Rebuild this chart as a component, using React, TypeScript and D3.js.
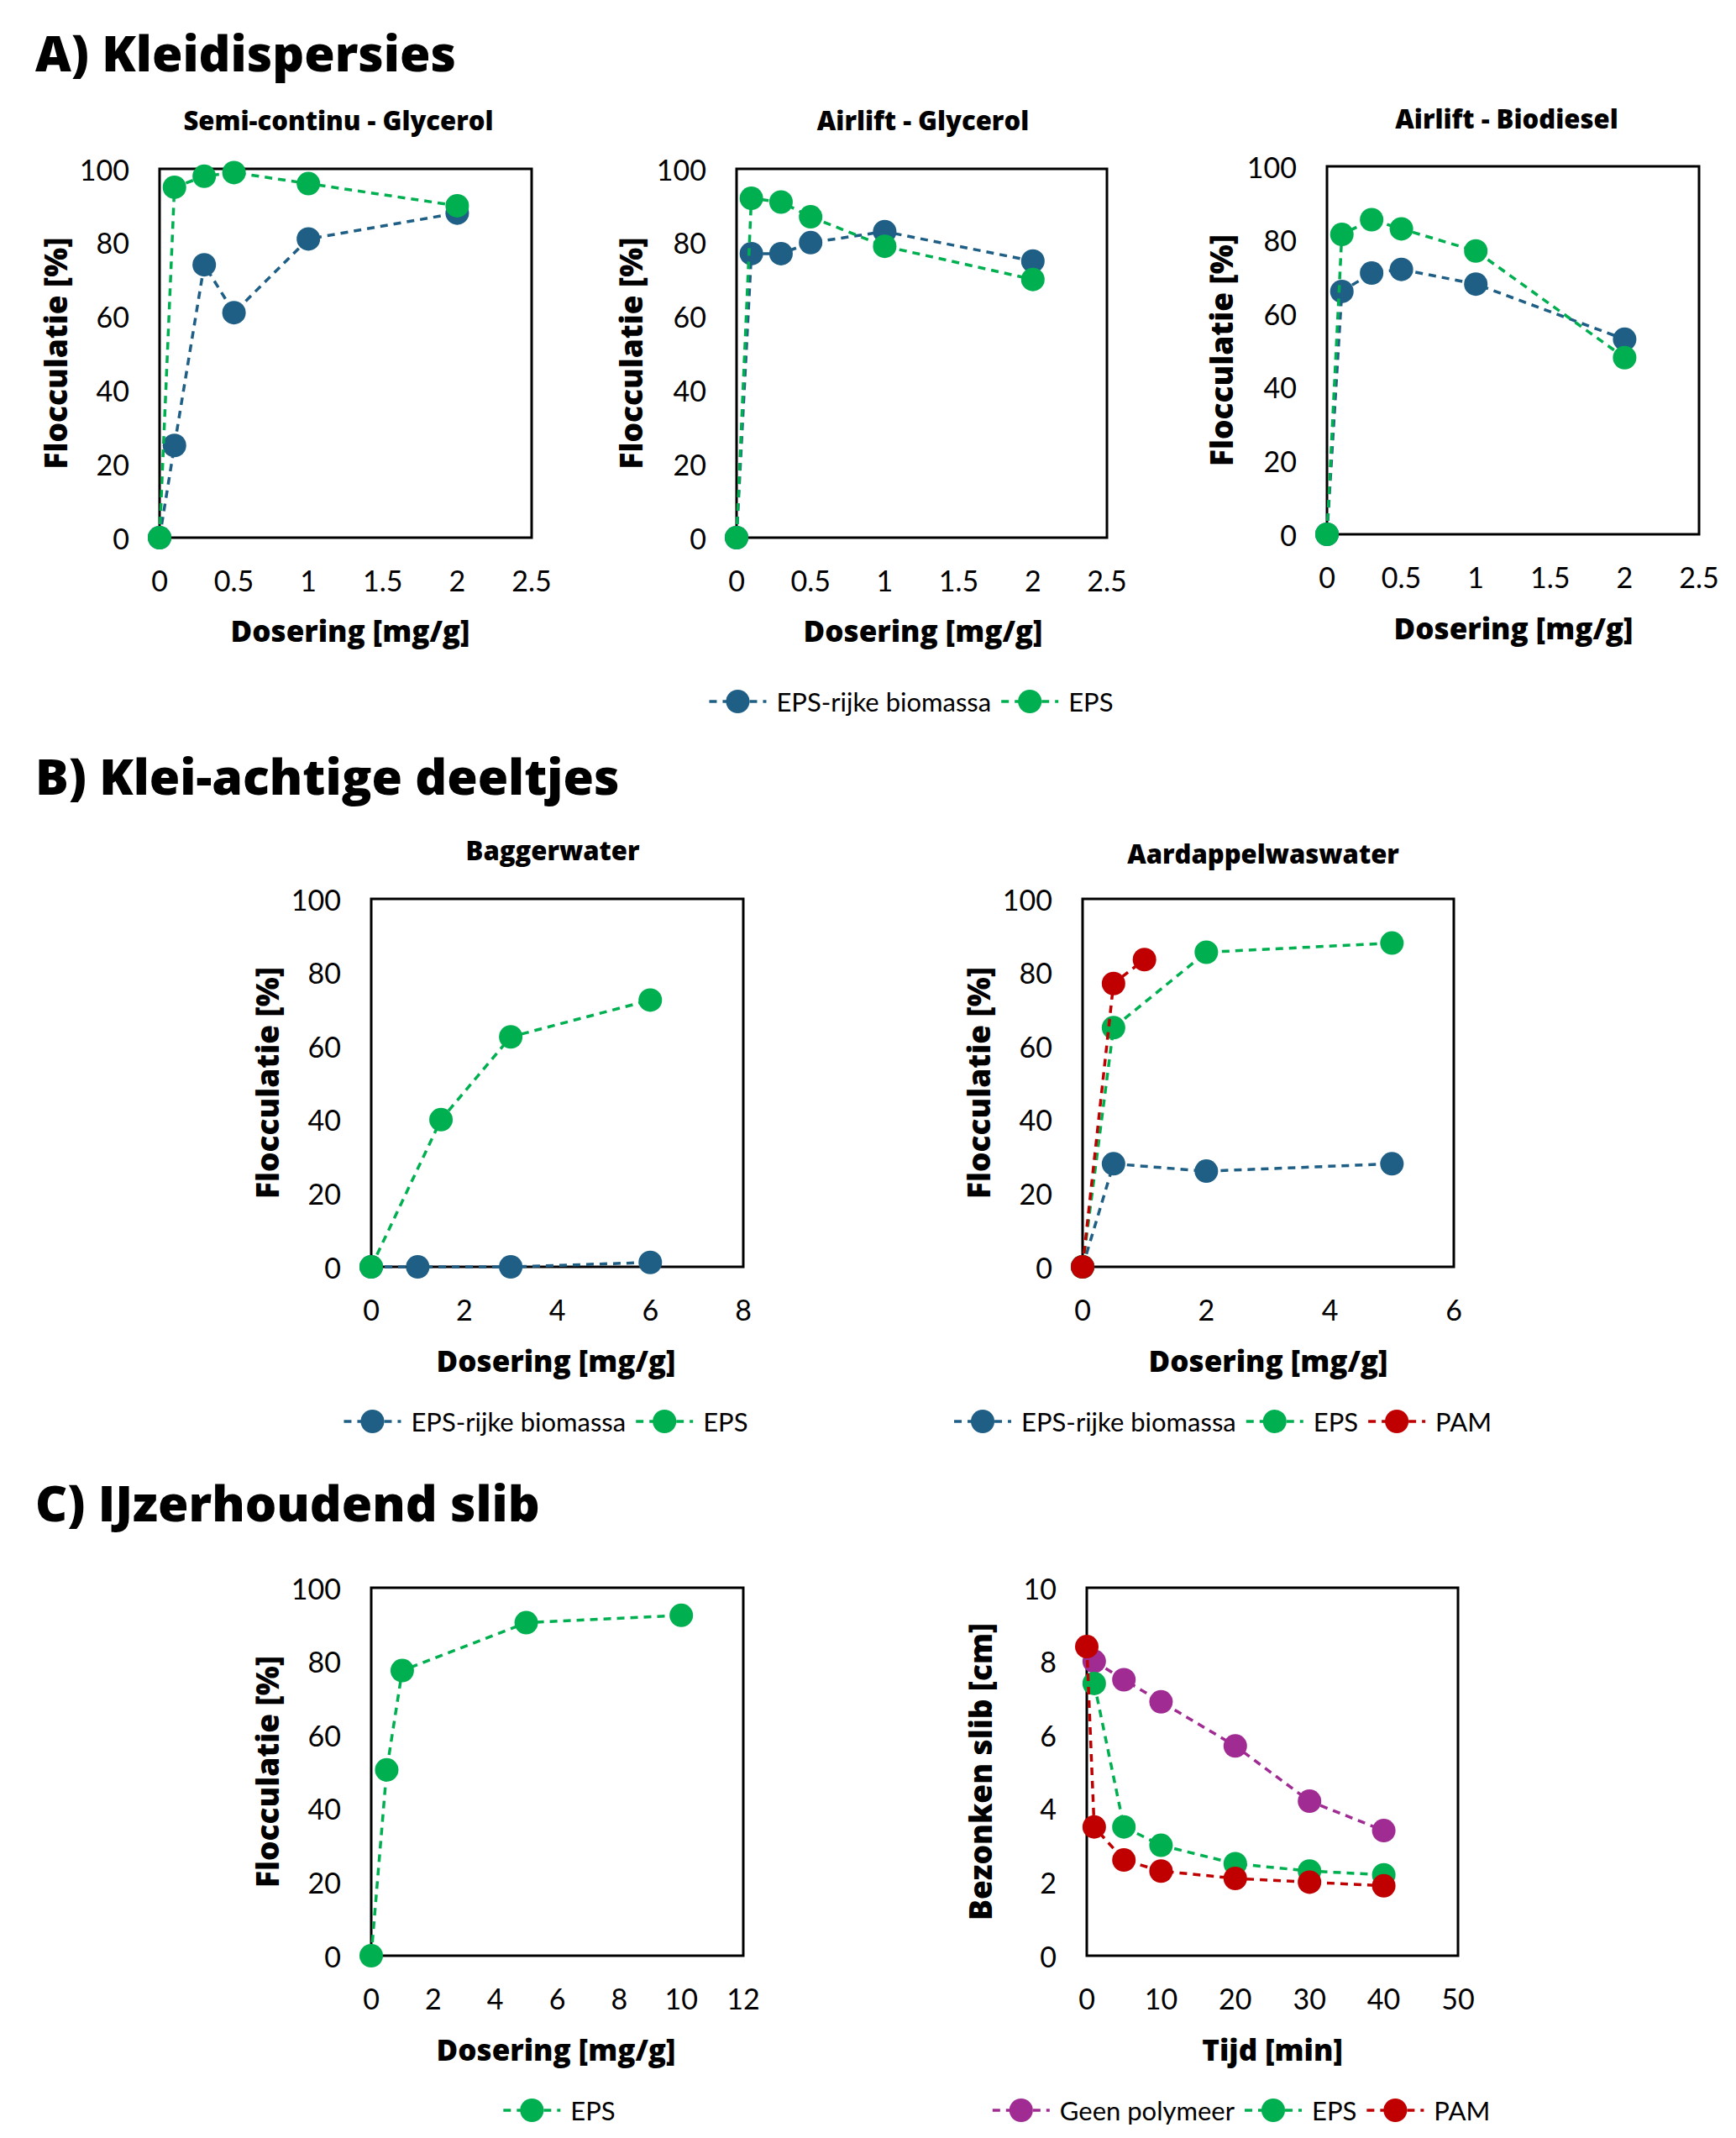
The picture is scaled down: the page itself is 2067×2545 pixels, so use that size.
import React, { useEffect, useRef } from "react";
import * as d3 from "d3";

// dosing series, panel A (clay dispersions)
const doseA = [0, 0.1, 0.3, 0.5, 1, 2];
const semiBiomassa = [0, 25, 74, 61, 81, 88];
const semiEps = [0, 95, 98, 99, 96, 90];
const glyBiomassa = [0, 77, 77, 80, 83, 75];
const glyEps = [0, 92, 91, 87, 79, 70];
const bioBiomassa = [0, 66, 71, 72, 68, 53];
const bioEps = [0, 81.5, 85.5, 83, 77, 48];

// panel B (clay-like particles)
const baggerDoseBiomassa = [0, 1, 3, 6];
const baggerBiomassa = [0, 0, 0, 1.2];
const baggerDoseEps = [0, 1.5, 3, 6];
const baggerEps = [0, 40, 62.5, 72.5];
const aardDose = [0, 0.5, 2, 5];
const aardBiomassa = [0, 28, 26, 28];
const aardEps = [0, 65, 85.5, 88];
const aardDosePam = [0, 0.5, 1];
const aardPam = [0, 77, 83.5];

// panel C (iron sludge)
const slibDose = [0, 0.5, 1, 5, 10];
const slibEps = [0, 50.5, 77.5, 90.5, 92.5];
const tijdGeen = [1, 5, 10, 20, 30, 40];
const tijdGeenSlib = [8, 7.5, 6.9, 5.7, 4.2, 3.4];
const tijdEps = [1, 5, 10, 20, 30, 40];
const tijdEpsSlib = [7.4, 3.5, 3.0, 2.5, 2.3, 2.2];
const tijdPam = [0, 1, 5, 10, 20, 30, 40];
const tijdPamSlib = [8.4, 3.5, 2.6, 2.3, 2.1, 2.0, 1.9];

const ticksDoseA = [0, 0.5, 1, 1.5, 2, 2.5];
const ticksPct = [0, 20, 40, 60, 80, 100];

const BLUE = "#1f5f86";
const GREEN = "#00b050";
const RED = "#c00000";
const PURPLE = "#a02b93";

const BOLD_FONT = "'Open Sans', Lato, sans-serif";
const TICK_FONT = "Lato, 'Open Sans', sans-serif";

const serie = (name, color, xs, ys) => ({
  name,
  color,
  points: xs.map((x, i) => ({ x, y: ys[i] })),
});

const panels = [
  {
    title: "Semi-continu - Glycerol", titleX: 403, titleY: 143,
    box: [190, 201, 633, 640], xDomain: [0, 2.5], xTicks: ticksDoseA,
    yDomain: [0, 100], yTicks: ticksPct,
    xLabel: "Dosering [mg/g]", xLabelX: 417, xLabelY: 750,
    yLabel: "Flocculatie [%]", yLabelX: 65,
    series: [serie("EPS-rijke biomassa", BLUE, doseA, semiBiomassa), serie("EPS", GREEN, doseA, semiEps)],
  },
  {
    title: "Airlift - Glycerol", titleX: 1099, titleY: 143,
    box: [877, 201, 1318, 640], xDomain: [0, 2.5], xTicks: ticksDoseA,
    yDomain: [0, 100], yTicks: ticksPct,
    xLabel: "Dosering [mg/g]", xLabelX: 1099, xLabelY: 750,
    yLabel: "Flocculatie [%]", yLabelX: 750,
    series: [serie("EPS-rijke biomassa", BLUE, doseA, glyBiomassa), serie("EPS", GREEN, doseA, glyEps)],
  },
  {
    title: "Airlift - Biodiesel", titleX: 1794, titleY: 141,
    box: [1580, 198, 2023, 636], xDomain: [0, 2.5], xTicks: ticksDoseA,
    yDomain: [0, 100], yTicks: ticksPct,
    xLabel: "Dosering [mg/g]", xLabelX: 1802, xLabelY: 747,
    yLabel: "Flocculatie [%]", yLabelX: 1453,
    series: [serie("EPS-rijke biomassa", BLUE, doseA, bioBiomassa), serie("EPS", GREEN, doseA, bioEps)],
  },
  {
    title: "Baggerwater", titleX: 658, titleY: 1012,
    box: [442, 1070, 885, 1508], xDomain: [0, 8], xTicks: [0, 2, 4, 6, 8],
    yDomain: [0, 100], yTicks: ticksPct,
    xLabel: "Dosering [mg/g]", xLabelX: 662, xLabelY: 1619,
    yLabel: "Flocculatie [%]", yLabelX: 317,
    series: [
      serie("EPS-rijke biomassa", BLUE, baggerDoseBiomassa, baggerBiomassa),
      serie("EPS", GREEN, baggerDoseEps, baggerEps),
    ],
  },
  {
    title: "Aardappelwaswater", titleX: 1504, titleY: 1016,
    box: [1289, 1070, 1731, 1508], xDomain: [0, 6], xTicks: [0, 2, 4, 6],
    yDomain: [0, 100], yTicks: ticksPct,
    xLabel: "Dosering [mg/g]", xLabelX: 1510, xLabelY: 1619,
    yLabel: "Flocculatie [%]", yLabelX: 1164,
    series: [
      serie("EPS-rijke biomassa", BLUE, aardDose, aardBiomassa),
      serie("EPS", GREEN, aardDose, aardEps),
      serie("PAM", RED, aardDosePam, aardPam),
    ],
  },
  {
    title: null,
    box: [442, 1890, 885, 2328], xDomain: [0, 12], xTicks: [0, 2, 4, 6, 8, 10, 12],
    yDomain: [0, 100], yTicks: ticksPct,
    xLabel: "Dosering [mg/g]", xLabelX: 662, xLabelY: 2439,
    yLabel: "Flocculatie [%]", yLabelX: 317,
    series: [serie("EPS", GREEN, slibDose, slibEps)],
  },
  {
    title: null,
    box: [1294, 1890, 1736, 2328], xDomain: [0, 50], xTicks: [0, 10, 20, 30, 40, 50],
    yDomain: [0, 10], yTicks: [0, 2, 4, 6, 8, 10],
    xLabel: "Tijd [min]", xLabelX: 1515, xLabelY: 2439,
    yLabel: "Bezonken slib [cm]", yLabelX: 1166,
    series: [
      serie("Geen polymeer", PURPLE, tijdGeen, tijdGeenSlib),
      serie("EPS", GREEN, tijdEps, tijdEpsSlib),
      serie("PAM", RED, tijdPam, tijdPamSlib),
    ],
  },
];

const legends = [
  { cx: 1085, cy: 835, items: [["EPS-rijke biomassa", BLUE], ["EPS", GREEN]] },
  { cx: 650, cy: 1692, items: [["EPS-rijke biomassa", BLUE], ["EPS", GREEN]] },
  { cx: 1456, cy: 1692, items: [["EPS-rijke biomassa", BLUE], ["EPS", GREEN], ["PAM", RED]] },
  { cx: 666, cy: 2512, items: [["EPS", GREEN]] },
  { cx: 1478, cy: 2512, items: [["Geen polymeer", PURPLE], ["EPS", GREEN], ["PAM", RED]] },
];

const headers = [
  { text: "A) Kleidispersies", y: 85 },
  { text: "B) Klei-achtige deeltjes", y: 946 },
  { text: "C) IJzerhoudend slib", y: 1811 },
];

const DASH = "9,7";
const R = 14;

const App = () => {
  const svgRef = useRef(null);

  useEffect(() => {
    const svg = d3.select(svgRef.current);
    svg.selectAll("*").remove();

    svg.append("rect").attr("width", 2067).attr("height", 2545).attr("fill", "#fff");

    // section headers
    svg
      .selectAll(".header")
      .data(headers)
      .enter()
      .append("text")
      .attr("x", 42)
      .attr("y", (d) => d.y)
      .style("font-family", BOLD_FONT)
      .style("font-weight", 800)
      .style("font-size", "59px")
      .text((d) => d.text);

    panels.forEach((p) => {
      const [x0, y0, x1, y1] = p.box;
      const x = d3.scaleLinear().domain(p.xDomain).range([x0, x1]);
      const y = d3.scaleLinear().domain(p.yDomain).range([y1, y0]);
      const g = svg.append("g");

      g.append("rect")
        .attr("x", x0)
        .attr("y", y0)
        .attr("width", x1 - x0)
        .attr("height", y1 - y0)
        .attr("fill", "none")
        .attr("stroke", "#000")
        .attr("stroke-width", 3);

      if (p.title) {
        g.append("text")
          .attr("x", p.titleX)
          .attr("y", p.titleY)
          .attr("text-anchor", "middle")
          .attr("dominant-baseline", "central")
          .style("font-family", BOLD_FONT)
          .style("font-weight", 800)
          .style("font-size", "31px")
          .text(p.title);
      }

      // y tick labels
      g.selectAll(".ytick")
        .data(p.yTicks)
        .enter()
        .append("text")
        .attr("x", x0 - 36)
        .attr("y", (d) => y(d))
        .attr("text-anchor", "end")
        .attr("dominant-baseline", "central")
        .style("font-family", TICK_FONT)
        .style("font-size", "34px")
        .text((d) => d);

      // x tick labels
      g.selectAll(".xtick")
        .data(p.xTicks)
        .enter()
        .append("text")
        .attr("x", (d) => x(d))
        .attr("y", y1 + 50)
        .attr("text-anchor", "middle")
        .attr("dominant-baseline", "central")
        .style("font-family", TICK_FONT)
        .style("font-size", "34px")
        .text((d) => d);

      g.append("text")
        .attr("x", p.xLabelX)
        .attr("y", p.xLabelY)
        .attr("text-anchor", "middle")
        .attr("dominant-baseline", "central")
        .style("font-family", BOLD_FONT)
        .style("font-weight", 800)
        .style("font-size", "35px")
        .text(p.xLabel);

      g.append("text")
        .attr("transform", `translate(${p.yLabelX},${(y0 + y1) / 2}) rotate(-90)`)
        .attr("text-anchor", "middle")
        .attr("dominant-baseline", "central")
        .style("font-family", BOLD_FONT)
        .style("font-weight", 800)
        .style("font-size", "37px")
        .text(p.yLabel);

      const line = d3
        .line()
        .x((d) => x(d.x))
        .y((d) => y(d.y));

      p.series.forEach((s) => {
        g.append("path")
          .datum(s.points)
          .attr("fill", "none")
          .attr("stroke", s.color)
          .attr("stroke-width", 3.5)
          .attr("stroke-dasharray", DASH)
          .attr("d", line);

        g.selectAll(null)
          .data(s.points)
          .enter()
          .append("circle")
          .attr("cx", (d) => x(d.x))
          .attr("cy", (d) => y(d.y))
          .attr("r", R)
          .attr("fill", s.color);
      });
    });

    // legends below each row
    legends.forEach((l) => {
      const g = svg.append("g");
      let cursor = 0;
      l.items.forEach(([name, color]) => {
        const item = g.append("g").attr("transform", `translate(${cursor},0)`);
        item
          .append("line")
          .attr("x1", 0)
          .attr("x2", 68)
          .attr("y1", 0)
          .attr("y2", 0)
          .attr("stroke", color)
          .attr("stroke-width", 3.5)
          .attr("stroke-dasharray", DASH);
        item.append("circle").attr("cx", 34).attr("cy", 0).attr("r", R).attr("fill", color);
        const t = item
          .append("text")
          .attr("x", 80)
          .attr("y", 0)
          .attr("dominant-baseline", "central")
          .style("font-family", TICK_FONT)
          .style("font-size", "31px")
          .text(name);
        const w = t.node().getComputedTextLength();
        cursor += 80 + w + 12;
      });
      const total = cursor - 12;
      g.attr("transform", `translate(${l.cx - total / 2},${l.cy})`);
    });
  }, []);

  return (
    <svg
      ref={svgRef}
      width={2067}
      height={2545}
      style={{ position: "absolute", left: 0, top: 0 }}
    />
  );
};

export default App;
